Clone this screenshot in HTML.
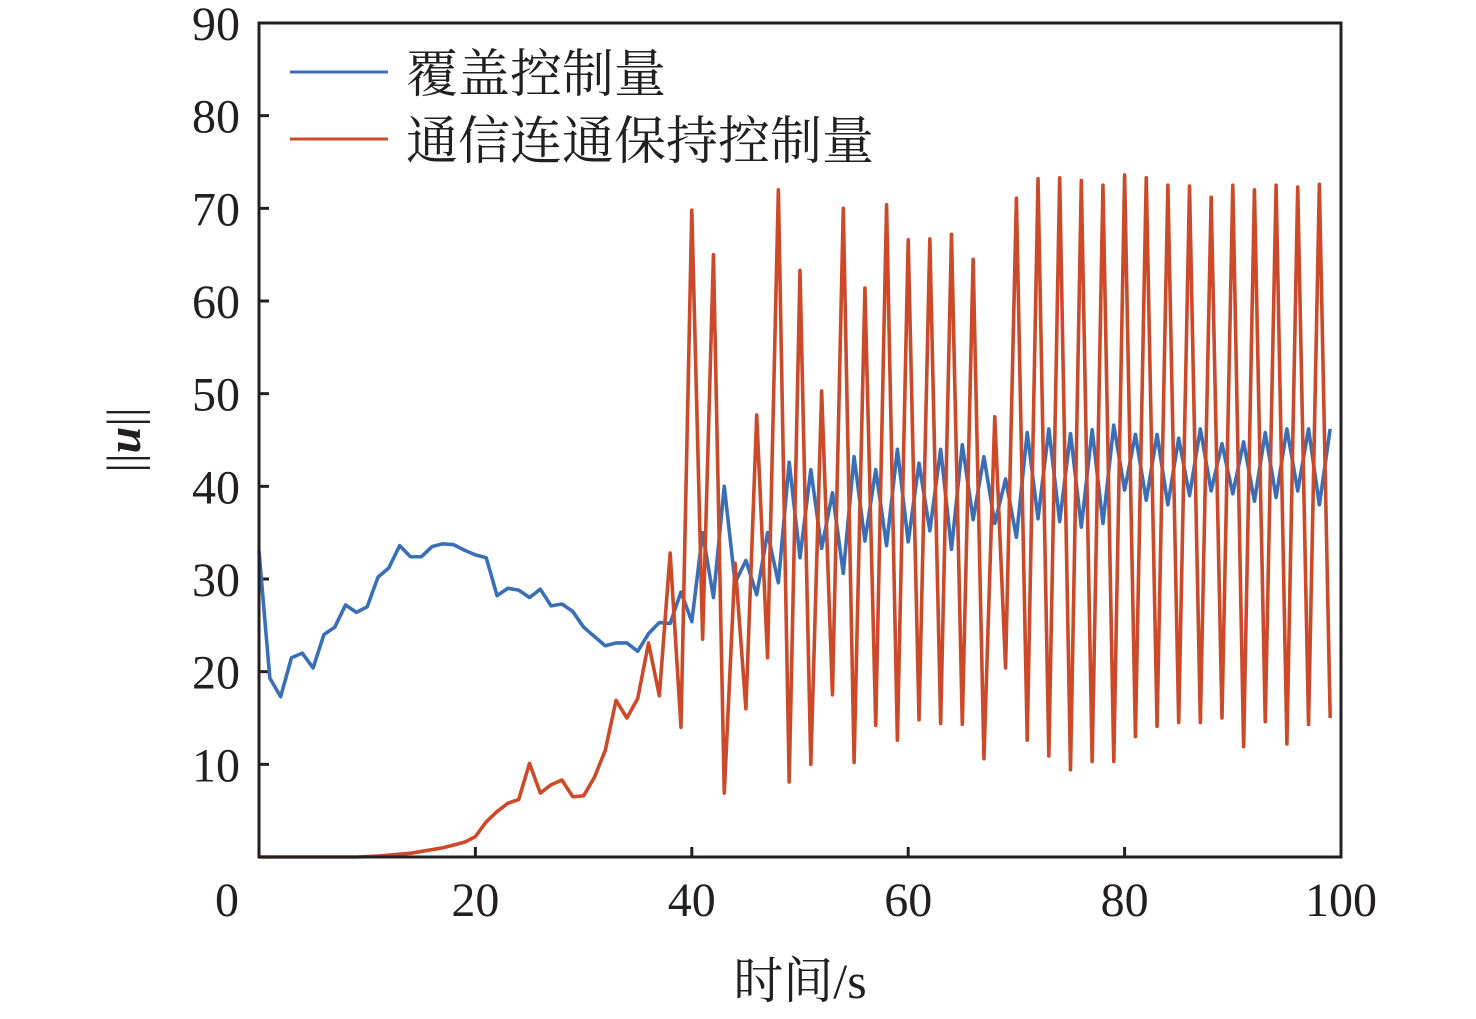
<!DOCTYPE html>
<html><head><meta charset="utf-8"><style>
body{margin:0;background:#fff;}
svg text{font-family:"Liberation Serif","Noto Serif CJK SC",serif;fill:#231f20;}
</style></head><body>
<svg width="1476" height="1014" viewBox="0 0 1476 1014">
<g id="ticks"></g>
<g id="series"></g>
<rect x="259" y="23" width="1082" height="834" fill="none" stroke="#231f20" stroke-width="3"/>
<text x="140" y="440" font-size="48" text-anchor="middle" transform="rotate(-90 140 440)">||<tspan font-weight="bold" font-style="italic">u</tspan>||</text>
<text x="800" y="998" font-size="50" text-anchor="middle">时间/s</text>
<g>
<line x1="290" y1="72" x2="388" y2="72" stroke="#3a6fb7" stroke-width="3"/>
<text x="406" y="92" font-size="52">覆盖控制量</text>
<line x1="290" y1="139" x2="388" y2="139" stroke="#cc4a2a" stroke-width="3"/>
<text x="406" y="159" font-size="52">通信连通保持控制量</text>
</g>
</svg>
<script>
const xTicks=[0,20,40,60,80,100];
const yTicks=[10,20,30,40,50,60,70,80,90];
const coverage=[33,19.3,17.3,21.5,22,20.4,24,24.8,27.2,26.4,27,30.2,31.2,33.6,32.4,32.4,33.5,33.8,33.7,33.1,32.6,32.3,28.2,29,28.8,28,28.9,27.1,27.3,26.5,24.8,23.8,22.8,23.1,23.1,22.2,24.1,25.3,25.2,28.6,25.4,35,28,40,29.6,32,28.3,35,29.6,42.6,32.3,41.8,33.3,39.3,30.6,43.2,34.1,41.8,33.6,44,34,42.5,35.2,44,33.2,44.5,36.4,43.2,36,40.8,34.5,45.8,36.5,46.2,36.2,45.7,35.6,46.1,36,46.6,39.6,45.6,38.5,45.6,38,45.2,39,46.2,39.5,44.6,39.2,44.8,38.4,45.8,38.8,46.2,39.5,46.2,38,46.2];
const connectivity=[0,0,0,0,0,0,0,0,0,0,0.05,0.1,0.2,0.3,0.4,0.6,0.8,1.0,1.3,1.6,2.2,3.8,4.9,5.8,6.2,10.1,6.9,7.8,8.3,6.5,6.6,8.6,11.5,16.9,15.0,17.1,23.1,17.4,32.8,14,69.8,23.5,65,6.9,31.7,16,47.7,21.5,72,8.1,63.3,10.0,50.3,17.5,70,10.2,61.4,14.2,70.4,12.6,66.6,14.8,66.7,14.4,67.2,14.3,64.5,10.6,47.5,20.4,71.1,12.6,73.2,10.9,73.3,9.4,73,10.3,72.5,10.3,73.6,13,73.3,14.1,72.5,14.5,72.4,14.5,71.2,15,72.5,11.9,72,14.6,72.5,12.2,72.3,14.3,72.6,15];
const X=t=>259+t*10.82, Y=v=>857-v*834/90;
const NS="http://www.w3.org/2000/svg";
const tg=document.getElementById('ticks'), sg=document.getElementById('series');
function mk(tag,attrs,parent){const e=document.createElementNS(NS,tag);for(const k in attrs)e.setAttribute(k,attrs[k]);parent.appendChild(e);return e;}
xTicks.forEach(t=>{
  if(t>0&&t<100){const l=mk('line',{x1:X(t),x2:X(t),y1:857,y2:847,stroke:'#231f20','stroke-width':3},tg);
  
  }
  const tx=mk('text',{x:t===0?227:X(t),y:916,'font-size':48,'text-anchor':'middle'},tg);
  tx.textContent=t;
  
  
});
yTicks.forEach(v=>{
  if(v<90){const l=mk('line',{x1:259,x2:269,y1:Y(v),y2:Y(v),stroke:'#231f20','stroke-width':3},tg);
  
  }
  const tx=mk('text',{x:240,y:Y(v)+17,'font-size':48,'text-anchor':'end'},tg);
  tx.textContent=v;
  
  
});
function line(data,color,name){
  const p=mk('polyline',{points:data.map((v,i)=>X(i)+','+Y(v)).join(' '),fill:'none',stroke:color,'stroke-width':3.6,'stroke-linejoin':'round'},sg);
  
  
}
line(coverage,'#3a6fb7','coverage-line');
line(connectivity,'#cc4a2a','connectivity-line');
</script>
</body></html>
